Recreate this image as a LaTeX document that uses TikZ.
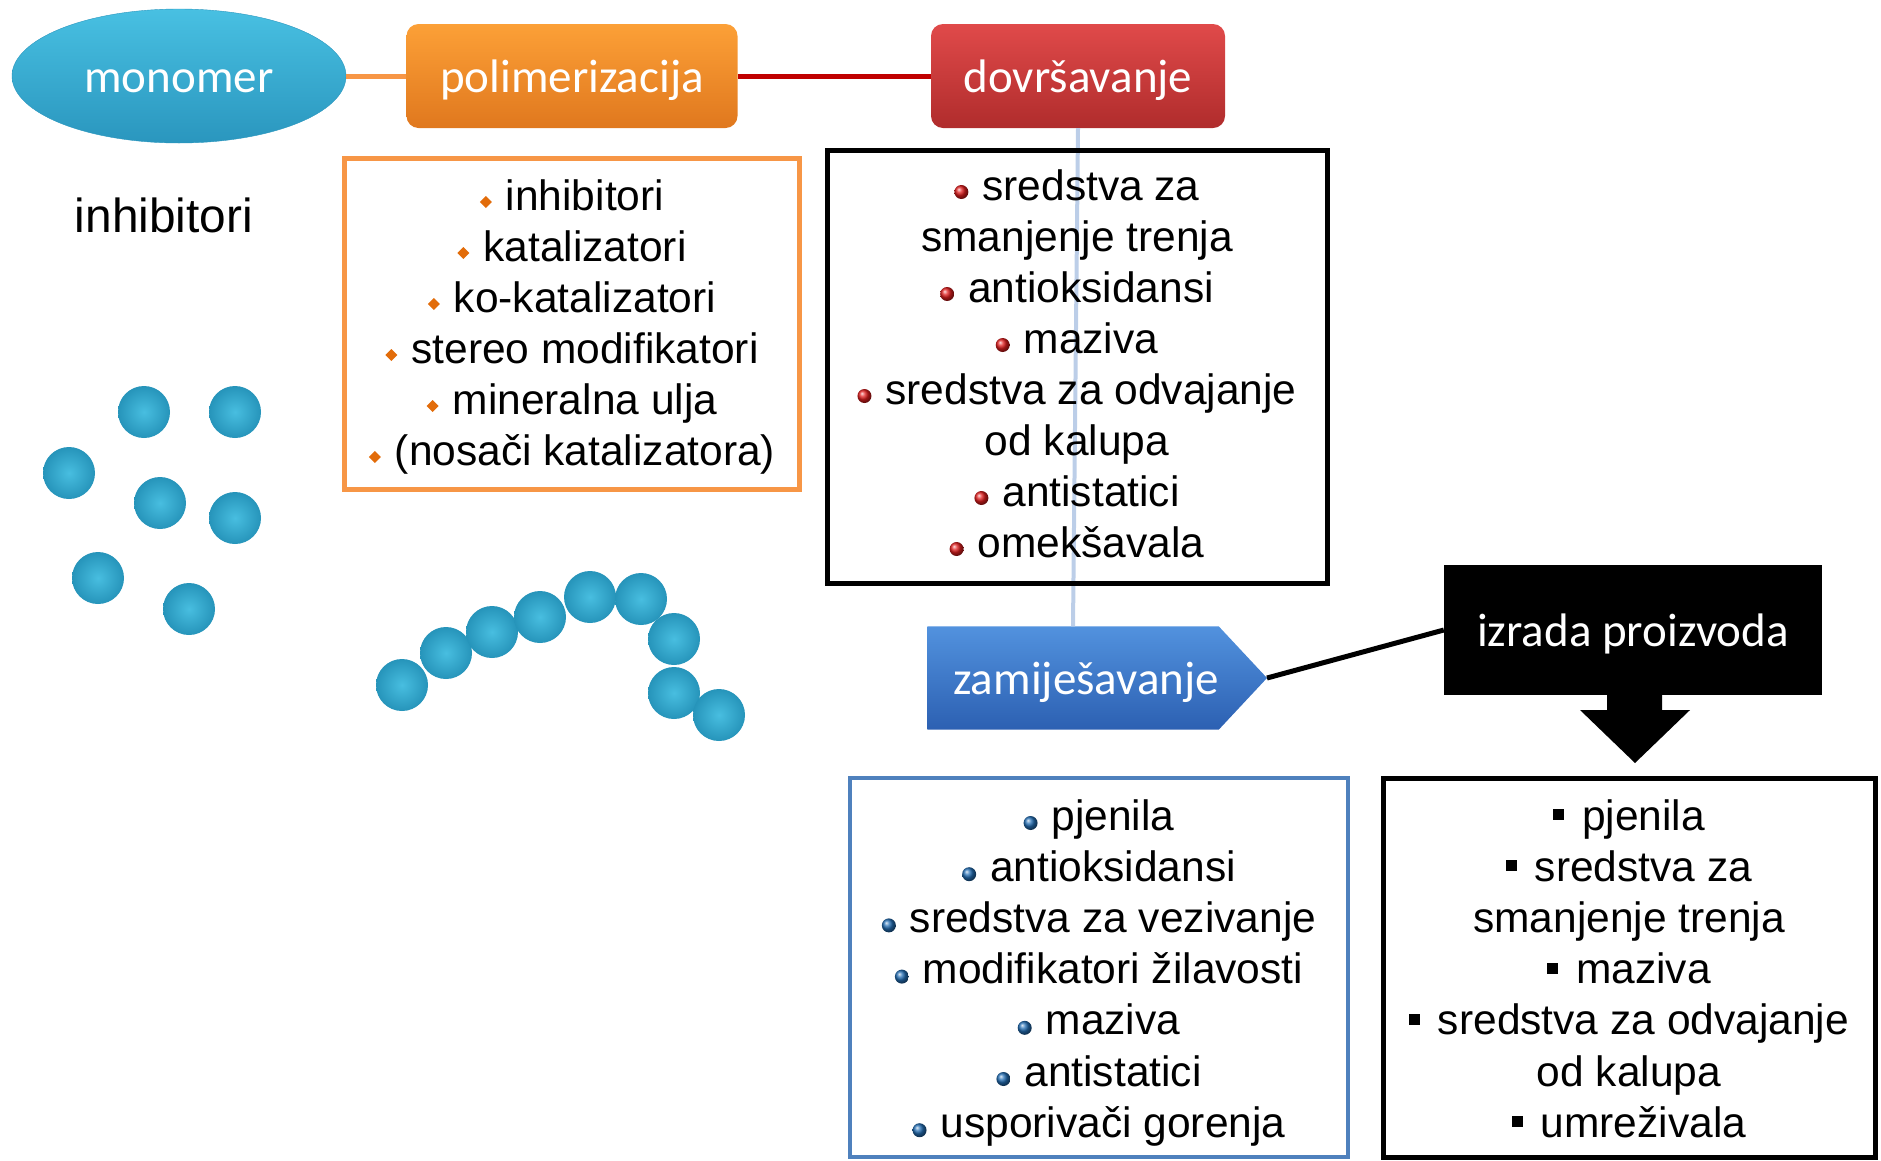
\documentclass[tikz,border=0pt]{standalone}
\usepackage{fontspec}
\setmainfont{Liberation Sans}
\newfontfamily\titlefont{Carlito}
\usetikzlibrary{shapes.geometric}

\definecolor{monotop}{RGB}{72,192,226}
\definecolor{monobot}{RGB}{42,150,190}
\definecolor{polytop}{RGB}{252,160,55}
\definecolor{polybot}{RGB}{224,120,30}
\definecolor{dovrtop}{RGB}{224,74,74}
\definecolor{dovrbot}{RGB}{176,44,44}
\definecolor{zamtop}{RGB}{82,146,222}
\definecolor{zambot}{RGB}{44,96,178}
\definecolor{lineorange}{RGB}{247,150,70}
\definecolor{linered}{RGB}{192,0,0}
\definecolor{dotblue}{RGB}{188,206,232}
\definecolor{boxblue}{RGB}{79,129,189}
\definecolor{bulorange}{RGB}{226,108,10}
\definecolor{bulred}{RGB}{225,30,30}
\definecolor{bulblue}{RGB}{35,110,180}
\definecolor{beadlight}{RGB}{72,190,224}
\definecolor{beaddark}{RGB}{38,148,186}

% list bullets, sized in pt so they sit on the text baseline
\newcommand{\obul}{\tikz[baseline=0pt]\fill[bulorange] (0pt,8pt) -- (6pt,2pt) -- (12pt,8pt) -- (6pt,14pt) -- cycle;\hspace{14pt}}
\newcommand{\rbul}{\tikz[baseline=0pt]\shade[ball color=bulred] (7pt,8pt) circle[radius=7pt];\hspace{14pt}}
\newcommand{\bbul}{\tikz[baseline=0pt]\shade[ball color=bulblue] (7pt,7pt) circle[radius=7pt];\hspace{14pt}}
\newcommand{\sbul}{\tikz[baseline=0pt]\fill (0pt,10pt) rectangle (11pt,21pt);\hspace{18pt}}

\tikzset{
  titletext/.style={text=white, text height=40pt, text depth=8pt,
    font=\titlefont\fontsize{47}{56}\selectfont},
  stepbox/.style={titletext, rounded corners=12pt, minimum width=#1, minimum height=104pt},
  listline/.style={anchor=base, inner sep=0pt, font=\fontsize{42.5}{51}\selectfont},
  bead/.style={inner color=beadlight, outer color=beaddark},
}

\begin{document}
\begin{tikzpicture}[x=1pt, y=-1pt]
    \useasboundingbox (0,0) rectangle (1881,1160);

    % free monomer beads
    \foreach \bx/\by in {144/412, 235/412, 69/473, 160/503, 235/518, 98/578, 189/609}
        \shade[bead] (\bx,\by) circle[radius=26];

    % polymer chain
    \foreach \bx/\by in {402/685, 446/653, 492/632, 540/617, 590/597, 641/599, 674/639, 674/693, 719/715}
        \shade[bead] (\bx,\by) circle[radius=26];

    % process steps
    \node[ellipse, titletext, minimum width=334pt, minimum height=134pt, top color=monotop, bottom color=monobot, draw=monobot] (mono) at (179,76) {monomer};
    \node[stepbox=331pt, top color=polytop, bottom color=polybot] (poly) at (572,76) {polimerizacija};
    \node[stepbox=294pt, top color=dovrtop, bottom color=dovrbot] (dovr) at (1078,76) {dovršavanje};
    \node[minimum width=291pt, minimum height=103pt, inner sep=0pt] (zamj) at (1073,678) {};
    \coordinate (zamtip) at (1267,678);
    \shade[top color=zamtop, bottom color=zambot] (zamj.south west) -- (zamj.north west) -- (zamj.north east) -- (zamtip) -- (zamj.south east) -- cycle;
    \node[titletext] (zamlbl) at (1086,678) {zamiješavanje};
    \node[titletext, fill=black, minimum width=378pt, minimum height=130pt] (izr) at (1633,630) {izrada proizvoda};
    \fill (1607,694) -- (1662,694) -- (1662,710) -- (1690,710) -- (1635,763) -- (1580,710) -- (1607,710) -- cycle; % down arrow

    % connectors
    \draw[lineorange, line width=5pt] (mono) -- (poly);
    \draw[linered, line width=5pt] (poly) -- (dovr);
    \draw[dotblue, line width=4pt] (dovr.south) -- (zamj.north);
    \draw[line width=5pt] (zamtip) -- (izr.west);

    % additive boxes
    \draw[lineorange, line width=5pt] (344,158) rectangle (799,489);
    \draw[line width=5pt] (827,150) rectangle (1327,583);
    \draw[boxblue, line width=4pt] (850,778) rectangle (1348,1157);
    \draw[line width=5pt] (1383,778) rectangle (1875,1157);

    \node[anchor=base, font=\fontsize{47.8}{57}\selectfont] (inhib) at (164,232) {inhibitori};

    \foreach \entry [count=\i] in {{\obul inhibitori}, {\obul katalizatori}, {\obul ko-katalizatori},
            {\obul stereo modifikatori}, {\obul mineralna ulja}, {\obul (nosači katalizatora)}}
        \node[listline] (pol-\i) at (572, 210+51*\i-51) {\entry};

    \foreach \entry [count=\i] in {{\rbul sredstva za}, {smanjenje trenja}, {\rbul antioksidansi}, {\rbul maziva},
            {\rbul sredstva za odvajanje}, {od kalupa}, {\rbul antistatici}, {\rbul omekšavala}}
        \node[listline] (dov-\i) at (1077, 200+51*\i-51) {\entry};

    \foreach \entry [count=\i] in {{\bbul pjenila}, {\bbul antioksidansi}, {\bbul sredstva za vezivanje},
            {\bbul modifikatori žilavosti}, {\bbul maziva}, {\bbul antistatici}, {\bbul usporivači gorenja}}
        \node[listline] (zam-\i) at (1099, 830+51.2*\i-51.2) {\entry};

    \foreach \entry [count=\i] in {{\sbul pjenila}, {\sbul sredstva za}, {smanjenje trenja}, {\sbul maziva},
            {\sbul sredstva za odvajanje}, {od kalupa}, {\sbul umreživala}}
        \node[listline] (izr-\i) at (1629, 830+51.2*\i-51.2) {\entry};
\end{tikzpicture}
\end{document}
